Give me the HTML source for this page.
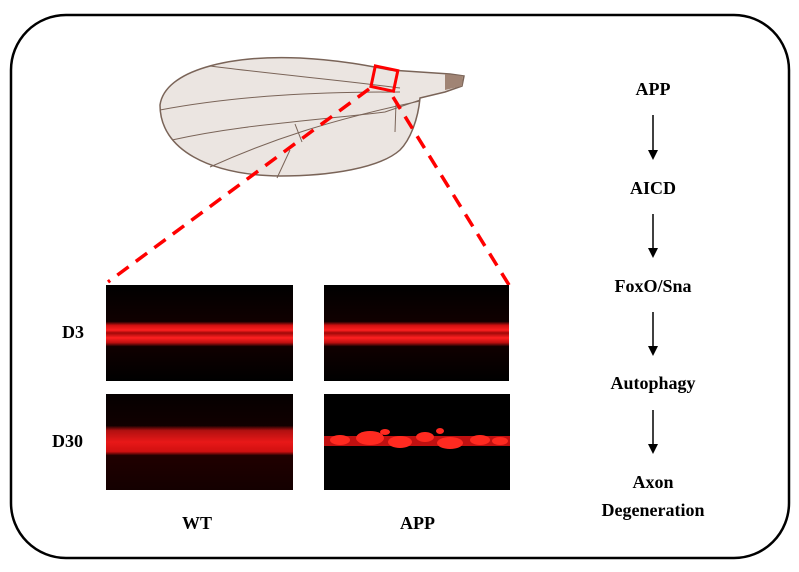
<!DOCTYPE html>
<html><head><style>
body{margin:0;background:#fff;}
svg{display:block;}
text{font-family:"Liberation Serif",serif;font-weight:bold;font-size:18px;fill:#000;}
</style></head><body>
<svg width="799" height="572" viewBox="0 0 799 572">
<defs>
<linearGradient id="band" x1="0" y1="0" x2="0" y2="1">
<stop offset="0" stop-color="#000"/><stop offset="0.38" stop-color="#100000"/>
<stop offset="0.42" stop-color="#d01010"/><stop offset="0.47" stop-color="#ff2020"/>
<stop offset="0.5" stop-color="#a00808"/><stop offset="0.55" stop-color="#ff2020"/>
<stop offset="0.6" stop-color="#c01010"/><stop offset="0.64" stop-color="#100000"/>
<stop offset="1" stop-color="#000"/></linearGradient>
<linearGradient id="band2" x1="0" y1="0" x2="0" y2="1">
<stop offset="0" stop-color="#050000"/><stop offset="0.33" stop-color="#100000"/>
<stop offset="0.38" stop-color="#b01010"/><stop offset="0.5" stop-color="#e81818"/>
<stop offset="0.6" stop-color="#d01010"/><stop offset="0.64" stop-color="#200000"/>
<stop offset="1" stop-color="#140000"/></linearGradient>
</defs>
<rect x="11" y="15" width="778" height="543" rx="55" fill="#fff" stroke="#000" stroke-width="2.5"/>
<!-- wing -->
<path d="M160,105 C165,70 230,55 300,58 C340,60 370,66 390,70 L450,74 L464,76 L462,86 L445,92 L420,98 C418,120 410,140 400,150 C380,168 330,176 280,176 C210,175 160,150 160,105 Z" fill="#ebe5e1" stroke="#7a6458" stroke-width="1.5"/>
<path d="M445,74 L463,76 L462,86 L445,90 Z" fill="#a08474"/>
<g stroke="#7a6458" stroke-width="1" fill="none">
<path d="M210,66 C280,75 340,80 400,88"/>
<path d="M160,110 C240,95 320,92 400,92"/>
<path d="M172,140 C240,125 300,122 385,112 L420,100"/>
<path d="M210,167 C270,140 330,120 420,101"/>
<path d="M295,124 L302,142"/><path d="M277,178 L290,150"/>
<path d="M396,103 L395,132"/>
</g>
<rect x="373" y="68" width="23" height="21" fill="none" stroke="#f00" stroke-width="3" transform="rotate(12 384 78)"/>
<g stroke="#f00" stroke-width="3.5" stroke-dasharray="14,9" fill="none">
<path d="M369,89 L108,282"/><path d="M393,97 L509,285"/>
</g>
<!-- images -->
<rect x="106" y="285" width="187" height="96" fill="url(#band)"/>
<rect x="324" y="285" width="185" height="96" fill="url(#band)"/>
<rect x="106" y="394" width="187" height="96" fill="url(#band2)"/>
<rect x="324" y="394" width="186" height="96" fill="#000"/>
<g fill="#ff2a20">
<rect x="324" y="436" width="186" height="10" fill="#c01010"/>
<ellipse cx="340" cy="440" rx="10" ry="5"/><ellipse cx="370" cy="438" rx="14" ry="7"/>
<ellipse cx="400" cy="442" rx="12" ry="6"/><ellipse cx="425" cy="437" rx="9" ry="5"/>
<ellipse cx="450" cy="443" rx="13" ry="6"/><ellipse cx="480" cy="440" rx="10" ry="5"/>
<ellipse cx="500" cy="441" rx="8" ry="4"/><ellipse cx="385" cy="432" rx="5" ry="3"/>
<ellipse cx="440" cy="431" rx="4" ry="3"/>
</g>
<text x="62" y="338">D3</text>
<text x="52" y="447">D30</text>
<text x="182" y="529">WT</text>
<text x="400" y="529">APP</text>
<g text-anchor="middle">
<text x="653" y="95">APP</text>
<text x="653" y="194">AICD</text>
<text x="653" y="292">FoxO/Sna</text>
<text x="653" y="389">Autophagy</text>
<text x="653" y="488">Axon</text>
<text x="653" y="516">Degeneration</text>
</g>
<g stroke="#000" stroke-width="1.5">
<line x1="653" y1="115" x2="653" y2="152"/><line x1="653" y1="214" x2="653" y2="250"/>
<line x1="653" y1="312" x2="653" y2="348"/><line x1="653" y1="410" x2="653" y2="446"/>
</g>
<g fill="#000">
<path d="M648,150 L658,150 L653,160Z"/><path d="M648,248 L658,248 L653,258Z"/>
<path d="M648,346 L658,346 L653,356Z"/><path d="M648,444 L658,444 L653,454Z"/>
</g>
</svg>
</body></html>
